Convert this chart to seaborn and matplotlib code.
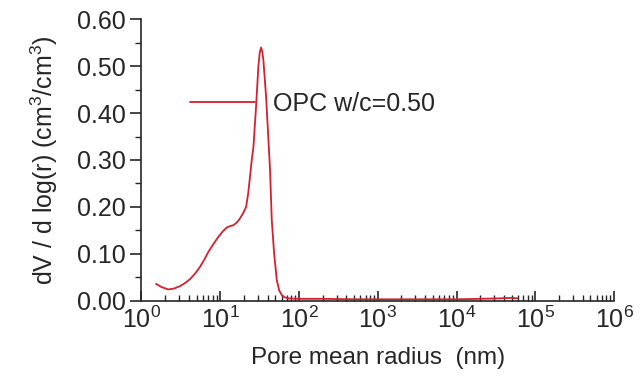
import pandas as pd
import matplotlib
matplotlib.use("Agg")
import matplotlib.pyplot as plt
import matplotlib.ticker as mticker
import seaborn as sns

# pore size distribution
radius = [1.53, 1.8, 2.19, 2.6, 3.08, 3.6, 4.13, 4.8, 5.53, 6.3, 7.06, 8.2,
          9.46, 10.8, 12.1, 13.3, 14.7, 16.3, 17.9, 19.7, 21.3, 22.6, 23.9,
          25.1, 26.4, 28.5, 30.5, 31.8, 33.0, 34.2, 35.3, 38.2, 40.9, 42.9,
          45.1, 48.3, 52.2, 56.0, 60.4, 66.0, 73.4, 100, 200, 500, 1000, 3000,
          10000, 20000, 35000, 50000, 59000]
dv = [0.036, 0.029, 0.024, 0.026, 0.031, 0.038, 0.046, 0.058, 0.072, 0.088,
      0.104, 0.121, 0.136, 0.148, 0.156, 0.159, 0.161, 0.167, 0.176, 0.188,
      0.200, 0.228, 0.265, 0.300, 0.328, 0.414, 0.500, 0.530, 0.540, 0.530,
      0.513, 0.435, 0.343, 0.279, 0.172, 0.101, 0.044, 0.022, 0.012, 0.007,
      0.005, 0.004, 0.004, 0.003, 0.003, 0.003, 0.003, 0.004, 0.005, 0.006,
      0.005]
series_name = "OPC w/c=0.50"

df = pd.DataFrame({"r": radius, "dv": dv, "sample": series_name})

sns.set_style("ticks")
plt.rcParams['font.family'] = ['Liberation Sans', 'DejaVu Sans']
plt.rcParams['mathtext.fontset'] = 'custom'
plt.rcParams['mathtext.rm'] = 'Liberation Sans'
plt.rcParams['mathtext.it'] = 'Liberation Sans:italic'

fig = plt.figure(figsize=(6.41, 3.8), dpi=100)
ax = fig.add_axes([0.2207, 0.2087, 0.7373, 0.7405])

sns.lineplot(data=df, x="r", y="dv", hue="sample", palette=["#d42030"],
             linewidth=1.3, ax=ax, estimator=None, sort=False)

ax.set_xscale("log")
ax.set_xlim(1, 1e6)
ax.set_ylim(0, 0.6)
ax.xaxis.set_major_locator(mticker.LogLocator(base=10, numticks=10))
ax.xaxis.set_minor_locator(mticker.LogLocator(base=10, subs=range(2, 10), numticks=20))
ax.xaxis.set_minor_formatter(mticker.NullFormatter())
ax.yaxis.set_major_locator(mticker.MultipleLocator(0.1))
ax.yaxis.set_minor_locator(mticker.MultipleLocator(0.05))
ax.yaxis.set_major_formatter(mticker.FormatStrFormatter("%.2f"))

ax.tick_params(axis="x", which="major", direction="in", length=7, width=1.2, labelsize=18, pad=4)
ax.tick_params(axis="x", which="minor", direction="in", length=4, width=1.0)
ax.tick_params(axis="y", which="major", direction="out", length=8, width=1.2, labelsize=18)
ax.tick_params(axis="y", which="minor", direction="out", length=4, width=1.0)
for s in ["left", "bottom"]:
    ax.spines[s].set_linewidth(1.2)
sns.despine(ax=ax)

ax.set_xlabel("Pore mean radius  (nm)", fontsize=17.5, labelpad=10)
ax.set_ylabel(r"dV / d log(r) (cm$^3$/cm$^3$)", fontsize=18, labelpad=12)

ax.legend(loc="center left", bbox_to_anchor=(0.103, 0.699), frameon=False,
          fontsize=18, handlelength=2.6, handletextpad=0.7,
          borderaxespad=0, borderpad=0)

fig.savefig("out.png", dpi=100)
